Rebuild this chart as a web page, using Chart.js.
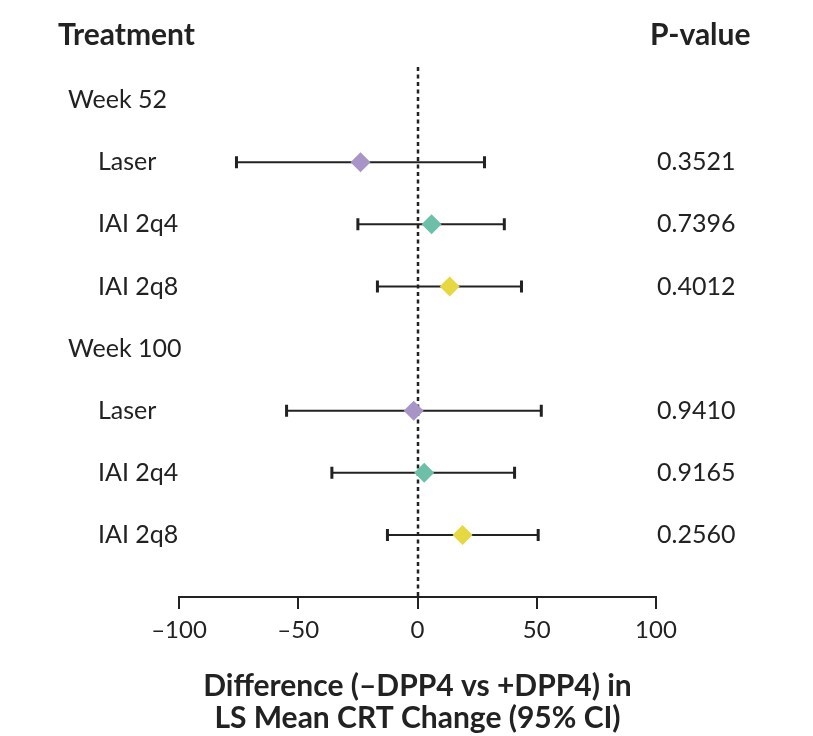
<!DOCTYPE html>
<html>
<head>
<meta charset="utf-8">
<script src="https://cdn.jsdelivr.net/npm/chart.js@4/dist/chart.umd.min.js"></script>
<style>
  html, body { margin: 0; padding: 0; background: #fff; }
  #wrap { width: 813px; height: 736px; position: relative; }
</style>
</head>
<body>
<div id="wrap"><canvas id="forestChart"></canvas></div>
<script>
// forest plot data
const groups = ['Week 52', 'Week 100'];
const treatments = ['Laser', 'IAI 2q4', 'IAI 2q8'];
const treatmentColors = ['#a994c8', '#6cc0a8', '#e6d83e'];

const estWeek52 = [-23.9, 5.9, 13.5];
const lowWeek52 = [-75.9, -25.0, -16.8];
const highWeek52 = [28.1, 36.4, 43.6];
const pWeek52 = ['0.3521', '0.7396', '0.4012'];

const estWeek100 = [-1.6, 2.8, 18.9];
const lowWeek100 = [-54.9, -35.9, -12.6];
const highWeek100 = [51.9, 40.7, 50.6];
const pWeek100 = ['0.9410', '0.9165', '0.2560'];

const xTicks = [-100, -50, 0, 50, 100];

const ink = '#222222';
const fontFamily = 'Lato, "Open Sans", sans-serif';

// rows: group header then its treatments
const rows = [];
const groupData = [
  { est: estWeek52, low: lowWeek52, high: highWeek52, p: pWeek52 },
  { est: estWeek100, low: lowWeek100, high: highWeek100, p: pWeek100 }
];
groups.forEach(function(g, gi) {
  rows.push({ label: g, header: true });
  treatments.forEach(function(t, ti) {
    const d = groupData[gi];
    rows.push({ label: t, header: false, est: d.est[ti], low: d.low[ti], high: d.high[ti], p: d.p[ti], color: treatmentColors[ti] });
  });
});

const points = [];
const colors = [];
rows.forEach(function(r, i) {
  if (!r.header) {
    points.push({ x: r.est, y: i });
    colors.push(r.color);
  }
});

const forestPlugin = {
  id: 'forest',
  beforeDatasetsDraw(chart) {
    const ctx = chart.ctx;
    const xs = chart.scales.x;
    const ys = chart.scales.y;
    ctx.save();

    // reference line at zero
    const x0 = Math.round(xs.getPixelForValue(0));
    ctx.strokeStyle = ink;
    ctx.lineWidth = 2.5;
    ctx.setLineDash([4, 3.5]);
    ctx.beginPath();
    ctx.moveTo(x0, 67);
    ctx.lineTo(x0, chart.chartArea.bottom);
    ctx.stroke();
    ctx.setLineDash([]);

    // confidence intervals
    rows.forEach(function(r, i) {
      if (r.header) return;
      const y = ys.getPixelForValue(i);
      const a = xs.getPixelForValue(r.low);
      const b = xs.getPixelForValue(r.high);
      ctx.lineWidth = 2;
      ctx.beginPath();
      ctx.moveTo(a, y);
      ctx.lineTo(b, y);
      ctx.stroke();
      ctx.lineWidth = 3;
      ctx.beginPath();
      ctx.moveTo(a, y - 6);
      ctx.lineTo(a, y + 6);
      ctx.moveTo(b, y - 6);
      ctx.lineTo(b, y + 6);
      ctx.stroke();
    });
    ctx.restore();
  },
  afterDraw(chart) {
    const ctx = chart.ctx;
    const ys = chart.scales.y;
    ctx.save();
    ctx.fillStyle = ink;
    ctx.textBaseline = 'middle';
    ctx.textAlign = 'left';

    ctx.font = 'bold 30px ' + fontFamily;
    ctx.fillText('Treatment', 58, 35);
    ctx.fillText('P-value', 650, 35);

    ctx.font = '25px ' + fontFamily;
    rows.forEach(function(r, i) {
      const y = ys.getPixelForValue(i);
      if (r.header) {
        ctx.fillText(r.label, 68, y);
      } else {
        ctx.fillText(r.label, 98, y);
        ctx.fillText(r.p, 657, y);
      }
    });
    ctx.restore();
  }
};

new Chart(document.getElementById('forestChart'), {
  type: 'scatter',
  data: {
    datasets: [{
      data: points,
      pointStyle: 'rectRot',
      pointRadius: 10,
      pointHoverRadius: 10,
      pointBackgroundColor: colors,
      pointBorderWidth: 0,
      borderWidth: 0
    }]
  },
  options: {
    responsive: true,
    maintainAspectRatio: false,
    animation: false,
    events: [],
    layout: {
      padding: { left: 179, right: 157, top: 38, bottom: 2 }
    },
    plugins: {
      legend: { display: false },
      tooltip: { enabled: false }
    },
    scales: {
      y: {
        type: 'linear',
        display: false,
        reverse: true,
        min: -1,
        max: 8
      },
      x: {
        type: 'linear',
        min: -100,
        max: 100,
        afterBuildTicks: function(scale) {
          scale.ticks = xTicks.map(function(v) { return { value: v }; });
        },
        border: { display: true, color: ink, width: 2 },
        grid: {
          drawOnChartArea: false,
          drawTicks: true,
          tickLength: 12,
          color: ink,
          lineWidth: 2
        },
        ticks: {
          color: ink,
          padding: 7,
          maxRotation: 0,
          font: { family: fontFamily, size: 24 },
          callback: function(v) { return String(v).replace('-', '\u2013'); }
        },
        title: {
          display: true,
          text: ['Difference (\u2013DPP4 vs +DPP4) in', 'LS Mean CRT Change (95% CI)'],
          color: ink,
          font: { family: fontFamily, size: 30, weight: 'bold', lineHeight: 1.07 },
          padding: { top: 18, bottom: 0 }
        }
      }
    }
  },
  plugins: [forestPlugin]
});
</script>
</body>
</html>
